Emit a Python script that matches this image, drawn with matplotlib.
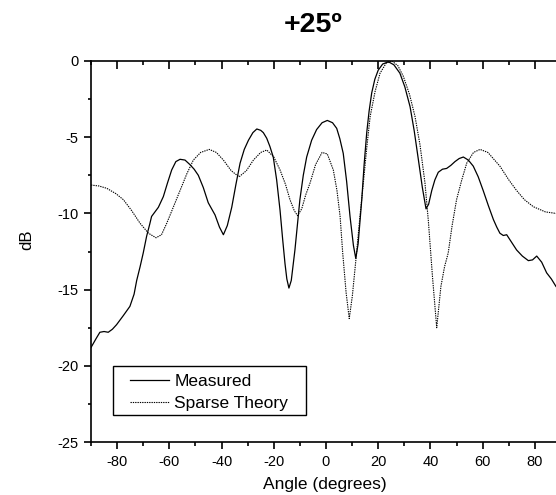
import matplotlib
matplotlib.use("Agg")
import matplotlib.pyplot as plt
from matplotlib.ticker import MultipleLocator
from matplotlib.patches import Rectangle

plt.rcParams['font.family'] = ['Liberation Sans', 'DejaVu Sans']
plt.rcParams['axes.unicode_minus'] = False

# ---- data ----
measured_angle = [-90, -88, -86.6, -85, -83.4, -81.8, -80.2, -77.6, -75.1, -73.5, -72.5, -71.2, -70,
                  -68.7, -67.5, -66.8, -65.5, -64.2, -62.3, -60.7, -59.1, -57.5, -55.9, -54, -52.1,
                  -50.5, -48.9, -47, -45.1, -42.5, -40.8, -39.3, -37.8, -36.1, -34.5, -32.9, -31.3,
                  -29.7, -28, -26.5, -25, -24, -22.7, -21.5, -20.2, -18.9, -17.6, -16.6, -15.7, -15,
                  -14.2, -13.3, -11.9, -10, -8.7, -7.4, -5.5, -3.6, -1.5, 0.5, 2.5, 4.1, 5.3, 6.6,
                  7.9, 9.2, 10.5, 11.4, 12.3, 13.7, 14.6, 15.6, 16.5, 17.5, 18.7, 20, 21.7, 23.9, 26,
                  28.3, 30.2, 32.2, 33.8, 35.4, 36.9, 38.3, 39.3, 40.5, 41.7, 43, 44.6, 46.2, 47.8,
                  49.4, 51, 52.6, 54.5, 56.4, 58.3, 60.2, 62.2, 64.1, 65.4, 66.6, 67.9, 69.2, 71.1,
                  73, 75.2, 77.5, 79.1, 80.7, 82.6, 84.5, 86.3, 88.1, 90]
measured_db = [-18.8, -18.2, -17.8, -17.75, -17.8, -17.6, -17.3, -16.7, -16.1, -15.3, -14.4, -13.5, -12.6,
               -11.5, -10.7, -10.2, -9.9, -9.6, -8.9, -8.0, -7.15, -6.6, -6.45, -6.5, -6.8,
               -7.1, -7.5, -8.3, -9.3, -10.1, -10.9, -11.4, -10.8, -9.6, -8.1, -6.7, -5.8,
               -5.2, -4.7, -4.46, -4.55, -4.7, -5.07, -5.6, -6.3, -7.8, -9.8, -11.7, -13.3, -14.3,
               -14.9, -14.4, -12.4, -9.1, -7.5, -6.3, -5.2, -4.5, -4.05, -3.9, -4.05, -4.42, -5.1, -6.06,
               -7.9, -10.2, -12.1, -12.95, -12.0, -9.1, -6.8, -4.7, -3.3, -2.1, -1.2, -0.6, -0.2, -0.05, -0.25,
               -0.8, -1.7, -3.0, -4.6, -6.5, -8.3, -9.7, -9.4, -8.5, -7.8, -7.3, -7.1, -7.05, -6.85,
               -6.6, -6.4, -6.3, -6.5, -6.9, -7.6, -8.5, -9.5, -10.4, -10.9, -11.3, -11.45, -11.4, -11.9,
               -12.4, -12.8, -13.1, -13.05, -12.8, -13.2, -13.9, -14.3, -14.8, -15.1]

theory_angle = [-90, -87, -84, -80.5, -77.6, -74.5, -71.2, -68, -65.1, -63, -61, -58.5, -55.9, -53.3,
                -50.8, -48, -44.7, -42, -39.3, -36.3, -33.3, -30.5, -27.8, -25, -22.7, -20, -17.6,
                -15.5, -13.8, -12.2, -10.9, -9.3, -7.8, -6.1, -4, -1.5, 0.5, 2.8, 4.2, 5.4, 6.4,
                7.7, 8.9, 10.1, 11.7, 13.0, 14.3, 15.6, 16.9, 18.8, 20.7, 23, 25.2, 27.5, 29.6, 32,
                34.1, 36, 37.9, 39.2, 40.8, 42.4, 44.0, 45.4, 46.8, 48.3, 50, 52, 53.9, 56.5, 59,
                62, 66.6, 70, 73, 76, 79.4, 84, 88, 90]
theory_db = [-8.14, -8.2, -8.35, -8.7, -9.1, -9.8, -10.65, -11.3, -11.6, -11.4, -10.65, -9.6, -8.5, -7.4,
             -6.5, -6.0, -5.8, -6.0, -6.5, -7.2, -7.6, -7.2, -6.5, -6.0, -5.84, -6.3, -7.15,
             -8.1, -9.1, -9.8, -10.15, -9.7, -8.8, -8.0, -6.8, -6.0, -6.1, -7.15, -8.5, -10.2, -12.6,
             -15.2, -16.9, -15.4, -12.6, -10.2, -8.0, -5.7, -3.65, -2.0, -0.8, -0.15, 0.0, -0.3, -1.0, -2.2,
             -3.65, -5.5, -8.0, -10.5, -14.2, -17.5, -14.8, -13.5, -12.6, -10.8, -9.1, -7.8, -6.7, -6.0, -5.8,
             -6.0, -6.9, -7.8, -8.5, -9.1, -9.56, -9.9, -10.0, -10.1]

labels = ["Measured", "Sparse Theory"]
title = "+25º"

W, H = 556, 495
fig = plt.figure(figsize=(W / 100, H / 100), dpi=100)
ax = fig.add_axes([91 / W, 1 - 442 / H, (561 - 91) / W, (442 - 61) / H])

ax.plot(measured_angle, measured_db, color='black', lw=0.9, label=labels[0])
ax.plot(theory_angle, theory_db, color='black', lw=0.8, linestyle=(0, (1.2, 0.9)), label=labels[1])

ax.set_xlim(-90, 90)
ax.set_ylim(-25, 0)
ax.xaxis.set_major_locator(MultipleLocator(20))
ax.xaxis.set_minor_locator(MultipleLocator(10))
ax.yaxis.set_major_locator(MultipleLocator(5))
ax.yaxis.set_minor_locator(MultipleLocator(2.5))
ax.set_xticks([-80, -60, -40, -20, 0, 20, 40, 60, 80])

for s in ['top', 'right']:
    ax.spines[s].set_visible(False)
for s in ['left', 'bottom']:
    ax.spines[s].set_linewidth(1.2)

ax.tick_params(axis='x', which='major', direction='out', length=5.2, width=1.2,
               labelsize=10.5, pad=4.5)
ax.tick_params(axis='x', which='minor', direction='out', length=3.0, width=1.2)
ax.tick_params(axis='y', which='major', direction='out', length=5.4, width=1.2,
               labelsize=10.5, pad=3.5)
ax.tick_params(axis='y', which='minor', direction='out', length=2.4, width=1.2)

top = ax.secondary_xaxis('top')
top.set_xticks([-80, -60, -40, -20, 0, 20, 40, 60, 80])
top.xaxis.set_minor_locator(MultipleLocator(10))
top.tick_params(which='major', direction='in', length=5.4, width=1.2, labeltop=False)
top.tick_params(which='minor', direction='in', length=3.0, width=1.2)
top.spines['top'].set_linewidth(1.2)

fig.text(325 / W, 1 - 484 / H, "Angle (degrees)", ha='center', va='center', fontsize=12.5)
fig.text(27 / W, 1 - 240 / H, "dB", ha='center', va='center', fontsize=12, rotation=90)
fig.text(313 / W, 1 - 25 / H, title, ha='center', va='center', fontsize=20.5, fontweight='bold')

leg = ax.legend(loc='upper left', bbox_to_anchor=(130 / W, 1 - 374 / H),
                bbox_transform=fig.transFigure, frameon=False, fontsize=12.5,
                borderpad=0, borderaxespad=0, handlelength=2.26, handletextpad=0.29,
                labelspacing=0.38)
fig.add_artist(Rectangle((113.3 / W, 1 - 415 / H), (305.7 - 113.3) / W, (415 - 366.3) / H,
                         transform=fig.transFigure, fill=False, edgecolor='black', lw=1.0))

fig.savefig("out.png", dpi=100)
